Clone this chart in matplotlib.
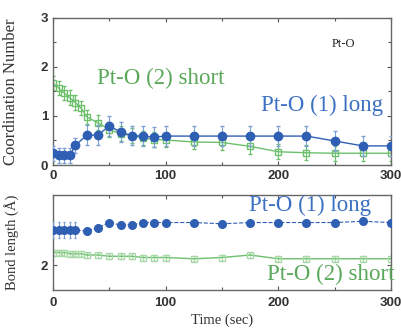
import matplotlib
matplotlib.use("Agg")
import matplotlib.pyplot as plt
from matplotlib.ticker import MultipleLocator, FixedLocator

# ---- data ----
t_long = [0, 5, 10, 15, 20, 30, 40, 50, 60, 70, 80, 90, 100, 125, 150, 175, 200, 225, 250, 275, 300]
cn_long = [0.24, 0.20, 0.20, 0.20, 0.40, 0.61, 0.61, 0.80, 0.67, 0.60, 0.59, 0.57, 0.59, 0.59, 0.59, 0.59, 0.59, 0.59, 0.49, 0.39, 0.39]
cn_long_err = [0.15, 0.15, 0.15, 0.15, 0.15, 0.2, 0.2, 0.2, 0.2, 0.2, 0.2, 0.2, 0.2, 0.2, 0.2, 0.2, 0.2, 0.2, 0.2, 0.2, 0.2]

t_short = [0, 5, 10, 15, 20, 25, 30, 40, 50, 60, 70, 80, 90, 100, 125, 150, 175, 200, 225, 250, 275, 300]
cn_short = [1.67, 1.57, 1.47, 1.37, 1.27, 1.16, 0.98, 0.86, 0.72, 0.64, 0.60, 0.55, 0.52, 0.51, 0.47, 0.46, 0.38, 0.27, 0.25, 0.24, 0.24, 0.24]
cn_short_err = [0.15] * 22

bl_long = [2.28, 2.28, 2.28, 2.28, 2.28, 2.27, 2.30, 2.34, 2.32, 2.32, 2.34, 2.34, 2.34, 2.34, 2.33, 2.34, 2.34, 2.34, 2.34, 2.35, 2.34]
bl_long_err = [0.065, 0.065, 0.065, 0.065, 0.065, 0.01, 0.01, 0.01, 0.01, 0.01, 0.01, 0.01, 0.01, 0.01, 0.01, 0.01, 0.01, 0.01, 0.01, 0.01, 0.01]
bl_short = [2.10, 2.10, 2.10, 2.09, 2.09, 2.09, 2.08, 2.08, 2.07, 2.07, 2.07, 2.06, 2.06, 2.06, 2.05, 2.06, 2.08, 2.05, 2.05, 2.05, 2.05, 2.05]
bl_short_err = [0.02] * 22

xticks = [0, 100, 200, 300]

BLUE = '#2f5fb3'
BLUE_T = '#3c70c2'
GREEN = '#6cc06c'
GREEN_T = '#5aa85a'

serif = ['Liberation Serif', 'DejaVu Serif']
sans = ['Liberation Sans', 'DejaVu Sans']

fig = plt.figure(figsize=(4.01, 3.32), dpi=100)
ax1 = fig.add_axes([0.132, 0.503, 0.843, 0.443])
ax2 = fig.add_axes([0.132, 0.1265, 0.843, 0.286])

for ax in (ax1, ax2):
    ax.set_xlim(0, 300)
    ax.xaxis.set_major_locator(FixedLocator(xticks))
    ax.xaxis.set_minor_locator(MultipleLocator(50))
    ax.tick_params(which='both', direction='in', top=True, right=True,
                   length=3, width=0.8, color='#555555')
    ax.tick_params(which='minor', length=2)
    for s in ax.spines.values():
        s.set_color('#666666')
        s.set_linewidth(1.0)
ax2.tick_params(axis='x', pad=5)

# top panel
ax1.set_ylim(0, 3)
ax1.yaxis.set_major_locator(MultipleLocator(1))
ax1.yaxis.set_minor_locator(MultipleLocator(0.5))
ax1.errorbar(t_short, cn_short, yerr=cn_short_err, color=GREEN, marker='s', ms=4.5,
             mfc='none', mec=GREEN, lw=1.0, elinewidth=0.8, capsize=1.5, zorder=2)
ax1.errorbar(t_long, cn_long, yerr=cn_long_err, color=BLUE, marker='o', ms=6,
             mfc=BLUE, mec=BLUE, lw=1.0, elinewidth=0.8, capsize=1.5, ecolor='#7d9fd6', zorder=3)
ax1.set_ylabel('Coordination Number', fontfamily=serif, fontsize=12, color='#333333')
ax1.yaxis.set_label_coords(-0.1, 0.5)
ax1.text(0.13, 0.59, 'Pt-O (2) short', transform=ax1.transAxes, fontfamily=serif,
         fontsize=16.5, color=GREEN_T, va='center', ha='left')
ax1.text(0.975, 0.405, 'Pt-O (1) long', transform=ax1.transAxes, fontfamily=serif,
         fontsize=16.5, color=BLUE_T, va='center', ha='right')
ax1.text(0.86, 0.82, 'Pt-O', transform=ax1.transAxes, fontfamily=serif,
         fontsize=9, color='#222222', va='center', ha='center')

# bottom panel
ax2.set_ylim(1.8, 2.56)
ax2.yaxis.set_major_locator(FixedLocator([2]))
ax2.yaxis.set_minor_locator(FixedLocator([]))
ax2.errorbar(t_short, bl_short, yerr=bl_short_err, color=GREEN, marker='s', ms=4.5,
             mfc='none', mec='#a8d8a8', lw=1.0, elinewidth=0.6, capsize=1.0, ecolor='#a8d8a8', zorder=2)
ax2.errorbar(t_long, bl_long, yerr=bl_long_err, color=BLUE, marker='o', ms=5.5,
             mfc=BLUE, mec=BLUE, lw=0.8, ls='--', elinewidth=0.8, capsize=1.0, ecolor='#7d9fd6', zorder=3)
ax2.set_ylabel('Bond length (Å)', fontfamily=serif, fontsize=10.5, color='#333333')
ax2.yaxis.set_label_coords(-0.1, 0.5)
ax2.set_xlabel('Time (sec)', fontfamily=serif, fontsize=10.5, color='#333333', labelpad=3)
ax2.text(0.94, 0.89, 'Pt-O (1) long', transform=ax2.transAxes, fontfamily=serif,
         fontsize=16.5, color=BLUE_T, va='center', ha='right')
ax2.text(1.01, 0.16, 'Pt-O (2) short', transform=ax2.transAxes, fontfamily=serif,
         fontsize=16.5, color=GREEN_T, va='center', ha='right')

for ax in (ax1, ax2):
    for lab in ax.get_xticklabels() + ax.get_yticklabels():
        lab.set_fontfamily(sans)
        lab.set_fontweight('bold')
        lab.set_fontsize(9.5)
        lab.set_color('#333333')

fig.savefig('out.png', dpi=100)
